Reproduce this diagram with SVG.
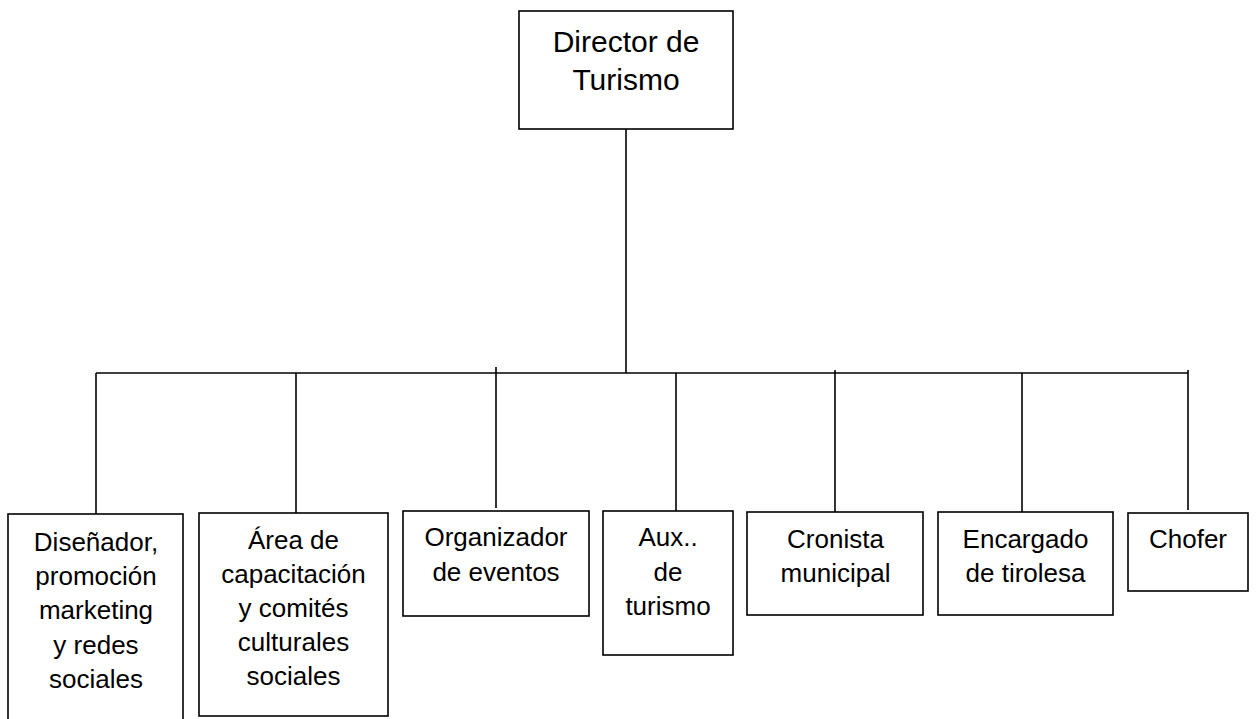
<svg xmlns="http://www.w3.org/2000/svg" width="1257" height="719" viewBox="0 0 1257 719">
<style>
.box{fill:#fff;stroke:#000;stroke-width:1.6}
.ln{stroke:#000;stroke-width:1.6;fill:none}
text{font-family:"Liberation Sans",Arial,sans-serif;fill:#000;text-anchor:middle}
.t{font-size:26px}
.big{font-size:30px}
</style>
<rect width="1257" height="719" fill="#fff"/>
<g id="connectors">
<line class="ln" x1="626" y1="129" x2="626" y2="373"/>
<line class="ln" x1="96" y1="373" x2="1188" y2="373"/>
<line class="ln" x1="96" y1="373" x2="96" y2="514"/>
<line class="ln" x1="296" y1="373" x2="296" y2="513"/>
<line class="ln" x1="496" y1="367" x2="496" y2="508"/>
<line class="ln" x1="676" y1="373" x2="676" y2="513"/>
<line class="ln" x1="835" y1="370" x2="835" y2="512"/>
<line class="ln" x1="1022" y1="373" x2="1022" y2="512"/>
<line class="ln" x1="1188" y1="370" x2="1188" y2="510"/>
</g>
<g id="director">
<rect class="box" x="519" y="11" width="214" height="118"/>
<text class="big" x="626" y="52">Director de</text>
<text class="big" x="626" y="90">Turismo</text>
</g>
<g id="disenador">
<rect class="box" x="8" y="514" width="175" height="210"/>
<text class="t" x="96" y="551">Diseñador,</text>
<text class="t" x="96" y="585">promoción</text>
<text class="t" x="96" y="619">marketing</text>
<text class="t" x="96" y="654">y redes</text>
<text class="t" x="96" y="688">sociales</text>
</g>
<g id="area">
<rect class="box" x="199" y="513" width="189" height="203"/>
<text class="t" x="293.5" y="549">Área de</text>
<text class="t" x="293.5" y="583">capacitación</text>
<text class="t" x="293.5" y="617">y comités</text>
<text class="t" x="293.5" y="651">culturales</text>
<text class="t" x="293.5" y="685">sociales</text>
</g>
<g id="organizador">
<rect class="box" x="403" y="511" width="186" height="105"/>
<text class="t" x="496" y="546">Organizador</text>
<text class="t" x="496" y="581">de eventos</text>
</g>
<g id="aux">
<rect class="box" x="603" y="511" width="130" height="144"/>
<text class="t" x="668" y="546">Aux..</text>
<text class="t" x="668" y="581">de</text>
<text class="t" x="668" y="615">turismo</text>
</g>
<g id="cronista">
<rect class="box" x="747" y="512" width="176" height="103"/>
<text class="t" x="835.5" y="548">Cronista</text>
<text class="t" x="835.5" y="582">municipal</text>
</g>
<g id="tirolesa">
<rect class="box" x="938" y="512" width="175" height="103"/>
<text class="t" x="1025.5" y="548">Encargado</text>
<text class="t" x="1025.5" y="582">de tirolesa</text>
</g>
<g id="chofer">
<rect class="box" x="1128" y="513" width="120" height="78"/>
<text class="t" x="1188" y="548">Chofer</text>
</g>
</svg>
